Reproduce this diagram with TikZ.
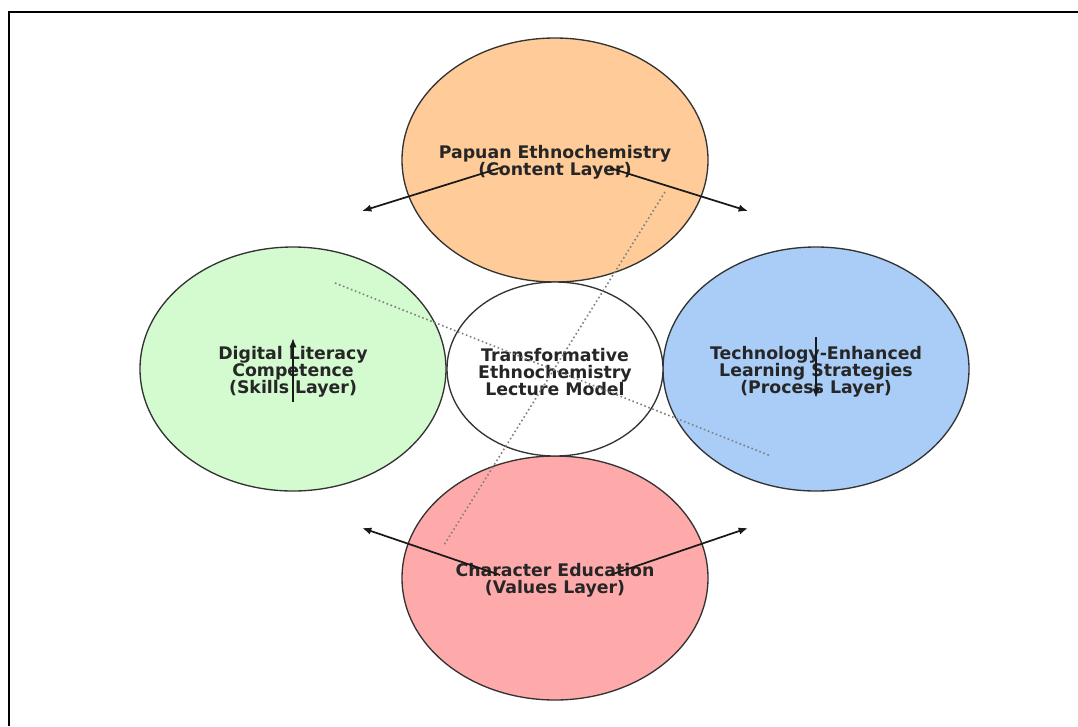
\documentclass[tikz,border=0pt]{standalone}
\usepackage{fontspec}
\setmainfont{DejaVu Sans}
\usetikzlibrary{shapes.geometric,arrows.meta}

\definecolor{contentfill}{HTML}{FFCC99}
\definecolor{skillsfill}{HTML}{D4FAD0}
\definecolor{processfill}{HTML}{A9CDF7}
\definecolor{valuesfill}{HTML}{FFAAAA}

\begin{document}
\begin{tikzpicture}[
  x=0.75pt, y=-0.75pt,
  font=\bfseries\fontsize{13}{12.8}\selectfont, >={Latex[length=7pt,width=5.5pt]},
  layer/.style = {draw=black!80, ellipse, line width=1pt, inner sep=0pt,
                  minimum width=229.5pt, minimum height=183pt},
  core/.style  = {layer, minimum width=162pt, minimum height=130.5pt},
  caption/.style = {align=center, text=black!85, yshift=-2pt},
  flow/.style  = {->, line width=1.3pt, black!90},
  guide/.style = {gray, dotted, line width=1.2pt}
]
\useasboundingbox (0,0) rectangle (1078,726);
\draw[line width=1.5pt] (9,726) -- (9,12) -- (1078,12);

% four layers round the core
\node[layer, fill=contentfill, label={[caption]center:Papuan Ethnochemistry\\(Content Layer)}]
  (content) at (555,160) {};
\node[layer, fill=skillsfill, label={[caption]center:Digital Literacy\\Competence\\(Skills Layer)}]
  (skills) at (293,369) {};
\node[layer, fill=processfill, label={[caption]center:Technology-Enhanced\\Learning Strategies\\(Process Layer)}]
  (process) at (816,369) {};
\node[layer, fill=valuesfill, label={[caption]center:Character Education\\(Values Layer)}]
  (values) at (555,578) {};
\node[core, fill=white, label={[caption]center:Transformative\\Ethnochemistry\\Lecture Model}]
  (model) at (555,369) {};

\coordinate (out-nw) at (362,211);
\coordinate (out-ne) at (748,211);
\coordinate (out-sw) at (362,528);
\coordinate (out-se) at (748,528);

\draw[flow] ([shift={(-55,8)}]content.center) -- (out-nw);
\draw[flow] ([shift={(55,8)}]content.center)  -- (out-ne);
\draw[flow] ([shift={(0,33)}]skills.center)   -- ([shift={(0,-31)}]skills.center);
\draw[flow] ([shift={(0,-32)}]process.center) -- ([shift={(0,29)}]process.center);
\draw[flow] ([shift={(-55,-3)}]values.center) -- (out-sw);
\draw[flow] ([shift={(55,-3)}]values.center)  -- (out-se);

\draw[guide] ([shift={(42,-86)}]skills.center) -- ([shift={(-45,87)}]process.center);
\draw[guide] ([shift={(110,32)}]content.center) -- ([shift={(-111,-33)}]values.center);

\end{tikzpicture}
\end{document}
